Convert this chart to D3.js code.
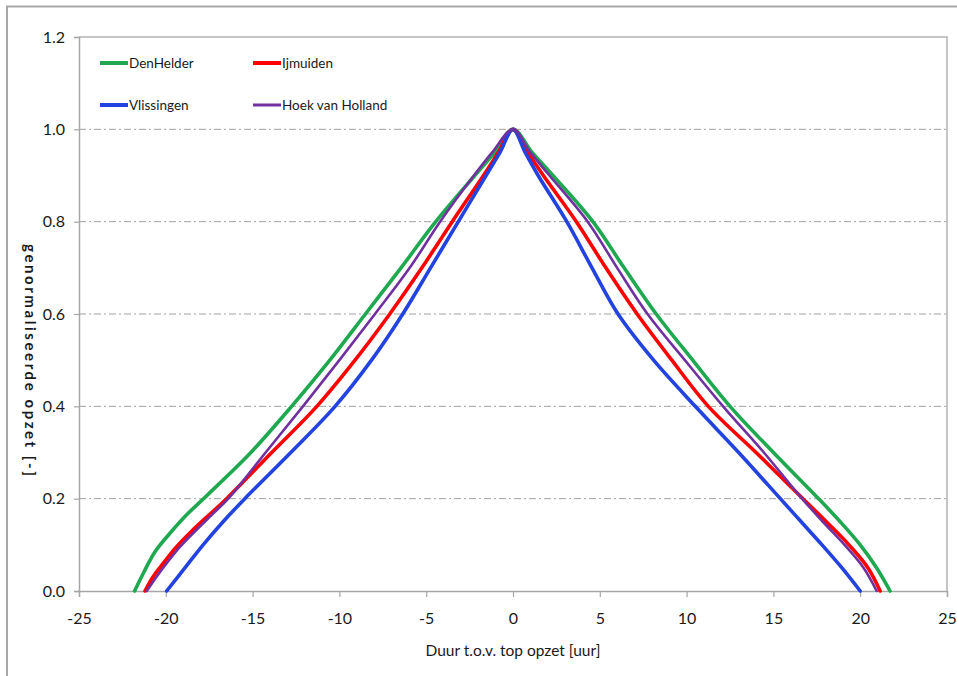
<!DOCTYPE html>
<html><head><meta charset="utf-8">
<script src="https://cdn.jsdelivr.net/npm/d3@7"></script>
<style>
html,body{margin:0;padding:0;background:#fff;}
svg text{font-family:Lato,"Noto Sans",sans-serif;fill:#1a1a1a;}
</style></head>
<body><svg id="c" width="957" height="676"></svg>
<script>
// ---- data ----
const seriesNames = ["DenHelder", "Ijmuiden", "Vlissingen", "Hoek van Holland"];
const seriesColors = ["#1fa84f", "#ff0000", "#2243e0", "#7030a0"];
const xTicks = [-25, -20, -15, -10, -5, 0, 5, 10, 15, 20, 25];
const yTicks = [0.0, 0.2, 0.4, 0.6, 0.8, 1.0, 1.2];
const xLabel = "Duur t.o.v. top opzet [uur]";
const yLabel = "genormaliseerde opzet [-]";

// [duur (uur), genormaliseerde opzet]
const denHelder = [[-21.8,0],[-21.3,0.038],[-20.62,0.085],[-19.76,0.125],[-18.8,0.165],[-17.6,0.208],[-15.1,0.3],[-12.75,0.4],[-10.55,0.5],[-8.5,0.6],[-6.45,0.7],[-4.45,0.8],[-2.2,0.9],[-1.05,0.95],[0,1],
  [1.1,0.95],[2.3,0.9],[4.6,0.8],[6.4,0.7],[8.25,0.6],[10.35,0.5],[12.5,0.4],[15.0,0.3],[17.6,0.2],[18.85,0.15],[20.0,0.1],[20.95,0.05],[21.72,0]];
const ijmuiden = [[-21.2,0],[-20.75,0.03],[-20.15,0.06],[-19.4,0.095],[-18.5,0.13],[-17.5,0.165],[-16.5,0.2],[-13.9,0.3],[-11.3,0.4],[-9.1,0.5],[-7.1,0.6],[-5.25,0.7],[-3.5,0.8],[-1.7,0.9],[-0.85,0.95],[0,1],
  [0.85,0.95],[1.75,0.9],[3.65,0.8],[5.35,0.7],[7.15,0.6],[9.15,0.5],[11.25,0.4],[14.0,0.3],[16.7,0.2],[18.05,0.15],[19.35,0.1],[20.45,0.05],[21.15,0]];
const vlissingen = [[-19.95,0],[-18.9,0.05],[-17.85,0.1],[-16.7,0.15],[-15.45,0.2],[-12.8,0.3],[-10.25,0.4],[-8.15,0.5],[-6.35,0.6],[-4.75,0.7],[-3.15,0.8],[-1.55,0.9],[-0.75,0.95],[0,1],
  [0.7,0.95],[1.45,0.9],[3.1,0.8],[4.55,0.7],[6.05,0.6],[8.1,0.5],[10.5,0.4],[13.0,0.3],[15.4,0.2],[16.6,0.15],[17.8,0.1],[18.95,0.05],[20.0,0]];
const hoekVanHolland = [[-21.1,0],[-20.55,0.03],[-19.95,0.06],[-19.2,0.095],[-18.3,0.13],[-17.35,0.165],[-16.4,0.2],[-14.25,0.3],[-12.1,0.4],[-10.0,0.5],[-7.95,0.6],[-5.95,0.7],[-4.2,0.8],[-2.25,0.9],[-1.2,0.95],[0,1],
  [1.0,0.95],[2.1,0.9],[4.3,0.8],[6.0,0.7],[7.75,0.6],[9.9,0.5],[12.1,0.4],[14.45,0.3],[16.65,0.2],[17.85,0.15],[19.1,0.1],[20.2,0.05],[20.95,0]];
const seriesData = [denHelder, ijmuiden, vlissingen, hoekVanHolland];

// ---- layout ----
const svg = d3.select("#c");
const L = 79, R = 947, T = 37, B = 591;
const x = d3.scaleLinear().domain([-25, 25]).range([L, R]);
const y = d3.scaleLinear().domain([0, 1.2]).range([B, T]);

// outer frame
svg.append("path").attr("d", `M7,676 V6.5 H957`).attr("fill","none").attr("stroke","#a6a6a6").attr("stroke-width",2);

// gridlines
svg.append("g").selectAll("line").data(yTicks.filter(v => v > 0 && v < 1.2)).join("line")
  .attr("x1", L).attr("x2", R).attr("y1", d => y(d)).attr("y2", d => y(d))
  .attr("stroke", "#a0a0a0").attr("stroke-width", 1).attr("stroke-dasharray", "7,3,2,3");

// plot border top/right
svg.append("path").attr("d", `M${L},${T} H${R} V${B}`).attr("fill","none").attr("stroke","#b4b4b4").attr("stroke-width",1.5);

// axes
const fmt = d => (d < 0 ? "-" + Math.abs(d) : String(d));
const xAxis = svg.append("g").attr("transform", `translate(0,${B})`)
  .call(d3.axisBottom(x).tickValues(xTicks).tickSize(6).tickPadding(16).tickFormat(fmt));
const yAxis = svg.append("g").attr("transform", `translate(${L},0)`)
  .call(d3.axisLeft(y).tickValues(yTicks).tickSize(5).tickPadding(9).tickFormat(d3.format(".1f")));
[xAxis, yAxis].forEach(g => {
  g.select(".domain").attr("stroke", "#a6a6a6").attr("stroke-width", 1.5);
  g.selectAll(".tick line").attr("stroke", "#a6a6a6").attr("stroke-width", 1.2);
  g.selectAll(".tick text").attr("font-size", 16).attr("font-family", "Lato").attr("fill", "#1a1a1a");
});

// lines
const line = d3.line().x(d => x(d[0])).y(d => y(d[1])).curve(d3.curveCatmullRom.alpha(0.5));
seriesData.forEach((s, i) => {
  svg.append("path").datum(s).attr("d", line).attr("fill", "none")
    .attr("stroke", seriesColors[i]).attr("stroke-width", i === 3 ? 2.6 : 3.6)
    .attr("stroke-linejoin", "round").attr("stroke-linecap", "round");
});

// legend
const legPos = [[100, 63], [253, 63], [100, 105], [253, 105]];
seriesNames.forEach((n, i) => {
  const [lx, ly] = legPos[i];
  svg.append("line").attr("x1", lx).attr("x2", lx + 28).attr("y1", ly).attr("y2", ly)
    .attr("stroke", seriesColors[i]).attr("stroke-width", i === 3 ? 3 : 4);
  svg.append("text").attr("x", lx + 29).attr("y", ly).attr("dy", "0.35em")
    .attr("font-size", 13.5).text(n);
});

// axis titles
svg.append("text").attr("x", (L + R) / 2).attr("y", 656).attr("text-anchor", "middle")
  .attr("font-size", 15.5).text(xLabel);
svg.append("text").attr("transform", `translate(25,360) rotate(90)`).attr("text-anchor", "middle")
  .attr("font-size", 15).attr("font-weight", "bold")
  .attr("textLength", 232).attr("lengthAdjust", "spacing").text(yLabel);
</script></body></html>
